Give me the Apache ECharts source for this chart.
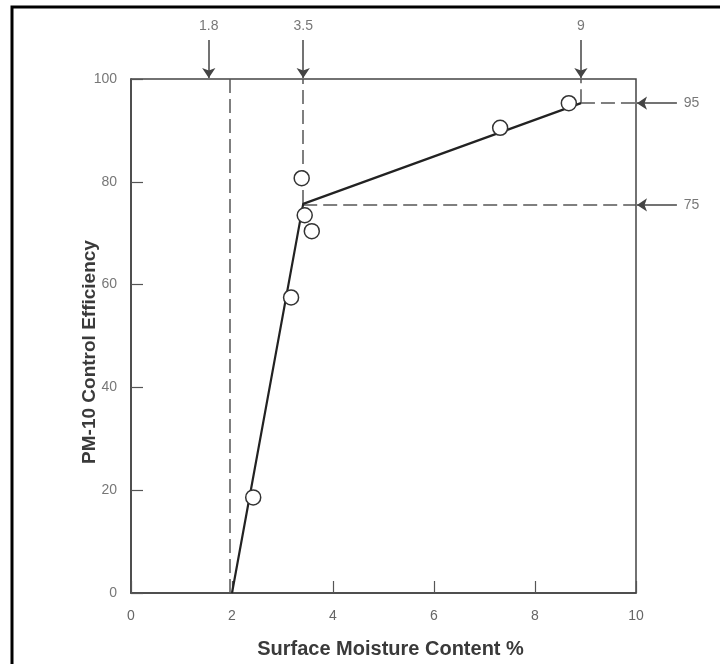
<!DOCTYPE html>
<html>
<head>
<meta charset="utf-8">
<script src="https://cdn.jsdelivr.net/npm/echarts@6/dist/echarts.min.js"></script>
<style>
html,body{margin:0;padding:0;background:#fff;}
#chart{width:720px;height:664px;}
</style>
</head>
<body>
<div id="chart"></div>
<script>
// Measured points (open circles)
const measuredMoisture = [2.42, 3.17, 3.38, 3.44, 3.58, 7.31, 8.67];
const measuredEfficiency = [18.6, 57.5, 80.7, 73.5, 70.4, 90.5, 95.3];
// Fitted piecewise line
const fitMoisture = [2.0, 3.41, 8.91];
const fitEfficiency = [0, 75.7, 95.3];
// Dashed guide lines: [x1, y1, x2, y2]
const guideSegments = [
  [1.95, 0, 1.95, 100],
  [3.41, 75.7, 3.41, 100],
  [3.41, 75.5, 10, 75.5],
  [8.91, 95.3, 8.91, 100],
  [8.91, 95.3, 10, 95.3]
];
// Top arrows (pointing down)
const topArrowX = [1.54, 3.41, 8.91];
const topArrowLabels = ['1.8', '3.5', '9'];
// Right arrows (pointing left)
const rightArrowY = [95.3, 75.5];
const rightArrowLabels = ['95', '75'];

const points = measuredMoisture.map((x, i) => [x, measuredEfficiency[i]]);
const fit = fitMoisture.map((x, i) => [x, fitEfficiency[i]]);
const guides = guideSegments.map(s => ({coords: [[s[0], s[1]], [s[2], s[3]]]}));
const arrows = topArrowX.map(x => ({coords: [[x, 107.6], [x, 100.2]]}))
  .concat(rightArrowY.map(y => ({coords: [[10.81, y], [10.02, y]]})));
const arrowLabels = topArrowX.map((x, i) => ({value: [x, 110.2], name: topArrowLabels[i]}))
  .concat(rightArrowY.map((y, i) => ({value: [11.1, y], name: rightArrowLabels[i]})));

const chart = echarts.init(document.getElementById('chart'), null, {renderer: 'canvas'});
const fontFamily = '"Liberation Sans", Arial, Helvetica, sans-serif';
chart.setOption({
  animation: false,
  backgroundColor: '#fff',
  textStyle: {fontFamily: fontFamily},
  graphic: [{
    type: 'rect',
    shape: {x: 12, y: 7, width: 720, height: 700},
    style: {fill: 'none', stroke: '#000', lineWidth: 3},
    silent: true
  }],
  grid: {
    left: 131, right: 84, top: 79, bottom: 70,
    show: true, borderColor: '#444', borderWidth: 1.5, backgroundColor: 'transparent'
  },
  xAxis: {
    type: 'value', min: 0, max: 10, interval: 2,
    name: 'Surface Moisture Content %',
    nameLocation: 'middle', nameGap: 46,
    nameTextStyle: {fontSize: 20, fontWeight: 'bold', color: '#3a3a3a', fontFamily: fontFamily,
      padding: [0, 0, 0, 14]},
    axisLine: {show: true, lineStyle: {color: '#444', width: 1.5}},
    axisTick: {show: true, inside: true, length: 12, lineStyle: {color: '#555', width: 1.2}},
    axisLabel: {fontSize: 14, color: '#666', margin: 16, fontFamily: fontFamily},
    splitLine: {show: false}
  },
  yAxis: {
    type: 'value', min: 0, max: 100, interval: 20,
    name: 'PM-10 Control Efficiency',
    nameLocation: 'middle', nameGap: 32, nameMoveOverlap: false,
    nameTextStyle: {fontSize: 19, fontWeight: 'bold', color: '#3a3a3a', fontFamily: fontFamily,
      padding: [0, 32, 0, 0]},
    axisLine: {show: true, lineStyle: {color: '#444', width: 1.5}},
    axisTick: {show: true, inside: true, length: 12, lineStyle: {color: '#555', width: 1.2}},
    axisLabel: {fontSize: 14, color: '#777', margin: 14, fontFamily: fontFamily},
    splitLine: {show: false}
  },
  series: [
    {
      type: 'lines', coordinateSystem: 'cartesian2d', clip: false,
      lineStyle: {color: '#555', width: 1.5, type: [14, 6], opacity: 1},
      symbol: ['none', 'none'],
      data: guides, z: 2
    },
    {
      type: 'lines', coordinateSystem: 'cartesian2d', clip: false,
      lineStyle: {color: '#444', width: 1.5, type: 'solid', opacity: 1},
      symbol: ['none', 'arrow'], symbolSize: 10,
      data: arrows, z: 3
    },
    {
      type: 'line', data: fit, showSymbol: false, symbol: 'none',
      lineStyle: {color: '#222', width: 2.2}, z: 4
    },
    {
      type: 'scatter', data: points, symbol: 'circle', symbolSize: 15,
      itemStyle: {color: '#fff', borderColor: '#333', borderWidth: 1.5, opacity: 1}, z: 5
    },
    {
      type: 'scatter', data: arrowLabels, clip: false, symbolSize: 1,
      itemStyle: {color: 'rgba(0,0,0,0)'},
      label: {show: true, position: 'inside', formatter: p => p.name,
        fontSize: 14, color: '#555', fontFamily: fontFamily},
      z: 6
    }
  ]
});
</script>
</body>
</html>
